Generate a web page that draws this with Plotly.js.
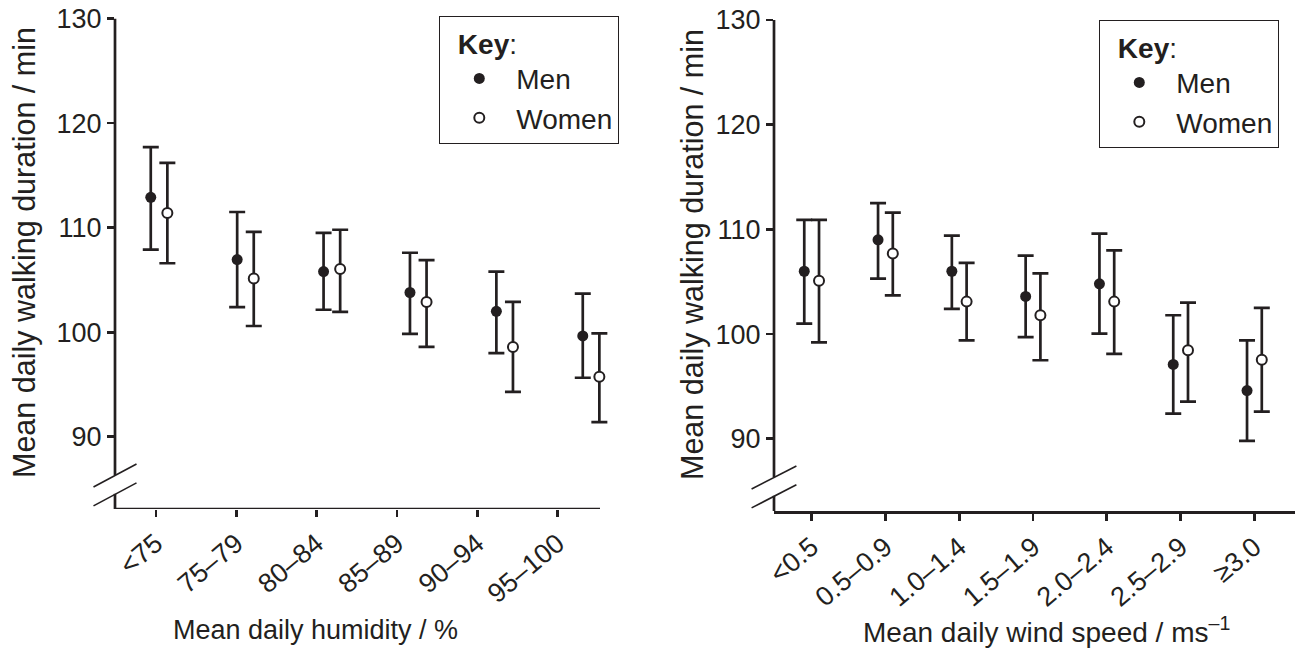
<!DOCTYPE html>
<html><head><meta charset="utf-8">
<script src="https://cdn.plot.ly/plotly-3.0.1.min.js"></script>
<style>html,body{margin:0;padding:0;background:#fff;} #chart{width:1301px;height:650px;}</style>
</head><body><div id="chart"></div>
<script>
// ---- data ----
const humidityLabels = ['<75', '75–79', '80–84', '85–89', '90–94', '95–100'];
const menHumMean  = [112.9, 106.95, 105.8, 103.8, 102.0, 99.65];
const menHumLow   = [107.9, 102.4, 102.15, 99.85, 98.0, 95.65];
const menHumHigh  = [117.7, 111.5, 109.5, 107.6, 105.8, 103.7];
const womenHumMean = [111.4, 105.15, 106.05, 102.9, 98.6, 95.75];
const womenHumLow  = [106.6, 100.6, 101.95, 98.6, 94.3, 91.4];
const womenHumHigh = [116.2, 109.6, 109.8, 106.9, 102.9, 99.9];

const windLabels = ['<0.5', '0.5–0.9', '1.0–1.4', '1.5–1.9', '2.0–2.4', '2.5–2.9', '≥3.0'];
const menWindMean  = [106.0, 109.0, 106.0, 103.6, 104.8, 97.1, 94.6];
const menWindLow   = [101.0, 105.3, 102.4, 99.7, 100.05, 92.4, 89.8];
const menWindHigh  = [110.9, 112.5, 109.4, 107.5, 109.6, 101.8, 99.4];
const womenWindMean = [105.1, 107.7, 103.1, 101.8, 103.1, 98.45, 97.55];
const womenWindLow  = [99.2, 103.7, 99.4, 97.5, 98.1, 93.55, 92.6];
const womenWindHigh = [110.9, 111.6, 106.8, 105.8, 108.0, 103.0, 102.5];

const yTicks = [90, 100, 110, 120, 130];

// ---- styling ----
const W = 1301, H = 650;
const px = v => v / W, py = v => 1 - v / H;
const INK = '#231f20';
const FONT = 'Liberation Sans, Arial, Helvetica, sans-serif';

function errY(mean, low, high) {
  return {
    type: 'data', symmetric: false,
    array: high.map((v, i) => v - mean[i]),
    arrayminus: mean.map((v, i) => v - low[i]),
    color: INK, thickness: 2.7, width: 8
  };
}
const menMarker = {size: 11, color: INK, line: {width: 0}};
const womenMarker = {size: 10, color: '#ffffff', line: {width: 2, color: INK}};

const offL = 0.096, offR = 0.1;
const data = [
  {type: 'scatter', mode: 'markers', name: 'Men', legend: 'legend',
   x: humidityLabels.map((_, i) => i - offL), y: menHumMean, text: humidityLabels,
   error_y: errY(menHumMean, menHumLow, menHumHigh), marker: menMarker,
   xaxis: 'x', yaxis: 'y', cliponaxis: false},
  {type: 'scatter', mode: 'markers', name: 'Women', legend: 'legend',
   x: humidityLabels.map((_, i) => i + offL), y: womenHumMean, text: humidityLabels,
   error_y: errY(womenHumMean, womenHumLow, womenHumHigh), marker: womenMarker,
   xaxis: 'x', yaxis: 'y', cliponaxis: false},
  {type: 'scatter', mode: 'markers', x: [], y: [], xaxis: 'x3', yaxis: 'y', showlegend: false, hoverinfo: 'skip'},
  {type: 'scatter', mode: 'markers', name: 'Men', legend: 'legend2',
   x: windLabels.map((_, i) => i - offR), y: menWindMean, text: windLabels,
   error_y: errY(menWindMean, menWindLow, menWindHigh), marker: menMarker,
   xaxis: 'x2', yaxis: 'y2', cliponaxis: false},
  {type: 'scatter', mode: 'markers', name: 'Women', legend: 'legend2',
   x: windLabels.map((_, i) => i + offR), y: womenWindMean, text: windLabels,
   error_y: errY(womenWindMean, womenWindLow, womenWindHigh), marker: womenMarker,
   xaxis: 'x2', yaxis: 'y2', cliponaxis: false}
];

const tickFont = {family: FONT, size: 27, color: INK};
const baseAx = {showgrid: false, zeroline: false, fixedrange: true};
const yAx = Object.assign({}, baseAx, {
  range: [83.1, 130], tickmode: 'array', tickvals: yTicks,
  ticks: 'outside', ticklen: 7, tickwidth: 2.7, tickcolor: INK,
  showline: false, tickfont: tickFont
});

function axisShapes(xr, yr, xEnd) {
  const line = {color: INK, width: 2.7};
  const thin = {color: INK, width: 1.6};
  const s = [
    {type: 'line', xref: xr, yref: yr, x0: 0, x1: 0, y0: 130, y1: 86.35, line},
    {type: 'line', xref: xr, yref: yr, x0: 0, x1: 0, y0: 84.55, y1: 83.1, line},
    {type: 'line', xref: xr, yref: yr, x0: -0.043, x1: 0.043, y0: 85.2, y1: 87.4, line: thin},
    {type: 'line', xref: xr, yref: yr, x0: -0.043, x1: 0.043, y0: 83.4, y1: 85.6, line: thin}
  ];
  if (xEnd) s.push({type: 'line', xref: xr, yref: yr, x0: 0, x1: xEnd, y0: 83.1, y1: 83.1, line});
  return s;
}

function legendCfg(x, y) {
  return {
    x: x, y: y, xanchor: 'left', yanchor: 'top',
    bgcolor: '#ffffff', bordercolor: INK, borderwidth: 1.3,
    font: {family: FONT, size: 28, color: INK},
    title: {text: '\u00a0\u00a0<b>Key</b>:', font: {family: FONT, size: 28, color: INK}},
    indentation: 2, itemwidth: 64, itemclick: false, itemdoubleclick: false
  };
}

function ann(text, x, y, angle, size) {
  return {text: text, x: x, y: y, xref: 'paper', yref: 'paper', showarrow: false,
          xanchor: 'center', yanchor: 'middle', textangle: angle || 0,
          font: {family: FONT, size: size || 27, color: INK}};
}

const layout = {
  width: W, height: H,
  margin: {l: 0, r: 0, t: 0, b: 0},
  paper_bgcolor: '#ffffff', plot_bgcolor: 'rgba(0,0,0,0)',
  font: {family: FONT, color: INK},
  showlegend: true,
  xaxis: Object.assign({}, baseAx, {
    domain: [px(115), px(615)], range: [-0.51, 5.277], anchor: 'y',
    showline: false, ticks: '', showticklabels: false
  }),
  xaxis3: Object.assign({}, baseAx, {
    overlaying: 'x', anchor: 'y', range: [-0.51, 5.716],
    tickmode: 'array', tickvals: humidityLabels.map((_, i) => i), ticktext: humidityLabels,
    ticks: 'outside', ticklen: 7, tickwidth: 2.7, tickcolor: INK, tickangle: -40,
    showline: false, tickfont: tickFont
  }),
  xaxis2: Object.assign({}, baseAx, {
    domain: [px(774), px(1295)], range: [-0.51, 6.55], anchor: 'y2',
    showline: true, linecolor: INK, linewidth: 2.7,
    tickmode: 'array', tickvals: windLabels.map((_, i) => i), ticktext: windLabels,
    ticks: 'outside', ticklen: 7, tickwidth: 2.7, tickcolor: INK, tickangle: -40,
    tickfont: tickFont
  }),
  yaxis: Object.assign({}, yAx, {domain: [py(509), py(18.5)], anchor: 'x'}),
  yaxis2: Object.assign({}, yAx, {domain: [py(511), py(20)], anchor: 'x2'}),
  shapes: axisShapes('x domain', 'y', 0.97).concat(axisShapes('x2 domain', 'y2')),
  legend: legendCfg(px(439), py(16)),
  legend2: legendCfg(px(1099), py(20)),
  annotations: [
    ann('Mean daily walking duration / min', px(24), py(253), -90, 30.5),
    ann('Mean daily walking duration / min', px(693), py(255), -90, 30.5),
    ann('Mean daily humidity / %', px(315), py(630), 0, 27),
    ann('Mean daily wind speed / ms<sup>–1</sup>', px(1046), py(630), 0, 28)
  ]
};

Plotly.newPlot('chart', data, layout, {displayModeBar: false, staticPlot: true});
</script>
</body></html>
